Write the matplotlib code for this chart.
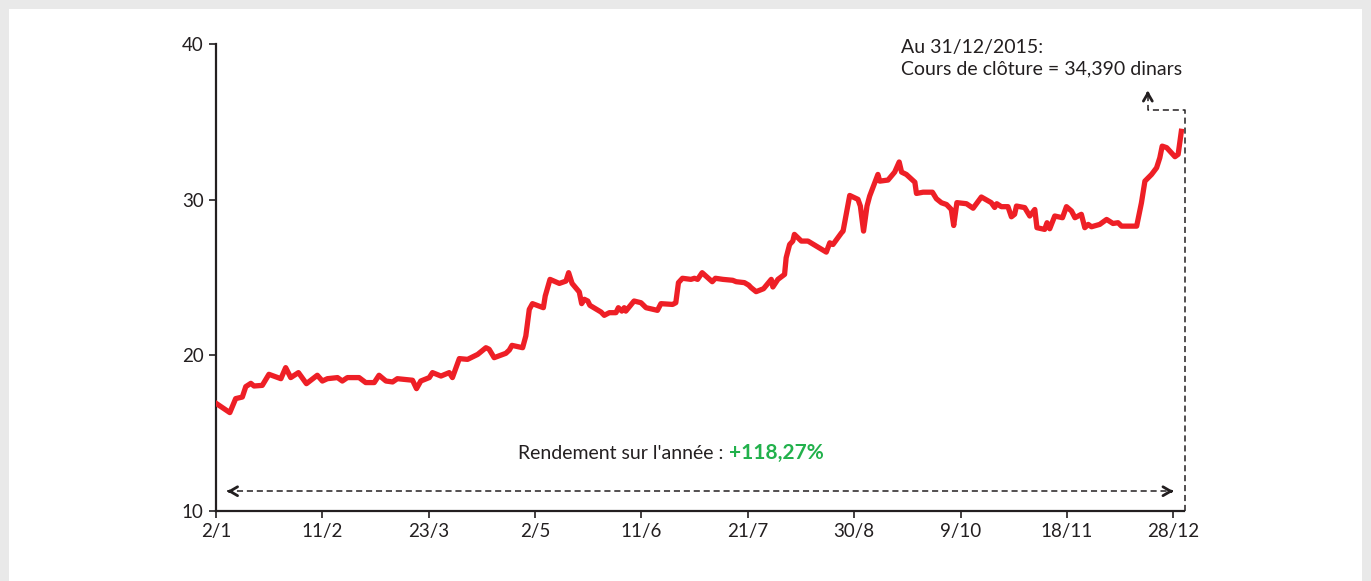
import matplotlib
matplotlib.use("Agg")
import matplotlib.pyplot as plt
from matplotlib.patches import Rectangle

plt.rcParams['font.family'] = ['Lato', 'DejaVu Sans']

# closing prices 2015, x = day of year
days = [2, 7.2, 9.4, 11.9, 13.2, 15.1, 16.3, 19.4, 21.9, 26.4, 28.2, 30.1, 33.0, 36.0,
        40.1, 42.0, 43.9, 47.7, 49.5, 51.4, 55.8, 58.3, 61.5, 63.3, 65.9, 68.4, 70.2,
        75.9, 77.4, 79.0, 82.2, 83.4, 86.6, 89.7, 90.9, 93.5, 96.6, 100.4, 103.5, 104.7,
        106.6, 111.0, 112.3, 113.3, 117.3, 118.5, 119.8, 121.0, 125.1, 125.8, 127.6,
        131.1, 133.6, 134.6, 135.9, 138.6, 139.5, 140.5, 141.8, 142.6, 146.8, 148.0,
        149.9, 152.4, 153.3, 154.6, 155.5, 156.1, 159.2, 161.8, 163.7, 168.0, 169.3,
        173.7, 174.9, 175.9, 177.4, 180.6, 181.9, 183.1, 184.8, 186.9, 188.6, 189.8,
        192.6, 196.3, 197.6, 200.7, 202.3, 203.2, 205.1, 207.9, 210.8, 211.4, 213.3,
        215.8, 216.4, 217.7, 218.9, 219.5, 222.1, 224.6, 227.7, 231.5, 232.8, 234.0,
        237.2, 237.8, 240.3, 243.4, 244.3, 245.5, 246.8, 247.8, 250.9, 251.6, 254.7,
        257.2, 258.9, 259.8, 261.6, 264.8, 265.4, 267.9, 271.4, 272.9, 274.8, 276.7,
        278.5, 279.4, 280.6, 284.2, 286.7, 289.8, 293.5, 294.8, 295.6, 297.3, 299.8,
        301.1, 302.3, 303.0, 306.1, 308.0, 309.9, 310.7, 313.6, 314.5, 315.5, 317.4,
        320.3, 321.8, 323.7, 325.0, 327.4, 328.7, 330.0, 331.2, 334.3, 336.9, 339.3,
        341.2, 342.5, 348.2, 350.0, 351.3, 353.8, 355.7, 356.9, 357.8, 359.5, 362.6,
        363.8, 365]
prices = [16.92, 16.32, 17.22, 17.32, 17.99, 18.2, 18.03, 18.07, 18.78, 18.5, 19.21,
          18.57, 18.89, 18.18, 18.72, 18.35, 18.5, 18.57, 18.35, 18.57, 18.57, 18.25,
          18.25, 18.72, 18.35, 18.29, 18.5, 18.4, 17.86, 18.35, 18.57, 18.89, 18.67,
          18.89, 18.57, 19.79, 19.74, 20.06, 20.49, 20.39, 19.85, 20.13, 20.34, 20.64,
          20.49, 21.24, 22.95, 23.32, 23.06, 23.81, 24.88, 24.62, 24.77, 25.31, 24.62,
          24.07, 23.32, 23.6, 23.49, 23.21, 22.78, 22.57, 22.74, 22.74, 23.06, 22.84,
          23.06, 22.84, 23.49, 23.38, 23.06, 22.89, 23.32, 23.27, 23.38, 24.67, 24.95,
          24.88, 24.95, 24.88, 25.31, 24.99, 24.73, 24.95, 24.88, 24.82, 24.73, 24.67,
          24.51, 24.35, 24.09, 24.28, 24.88, 24.39, 24.88, 25.2, 26.27, 27.12, 27.34,
          27.77, 27.34, 27.34, 27.02, 26.63, 27.23, 27.12, 27.87, 27.98, 30.27, 30.02,
          29.59, 27.98, 29.59, 30.23, 31.62, 31.19, 31.26, 31.77, 32.42, 31.77, 31.62,
          31.12, 30.4, 30.48, 30.48, 30.06, 29.8, 29.69, 29.37, 28.34, 29.81, 29.74,
          29.45, 30.17, 29.81, 29.5, 29.74, 29.55, 29.55, 28.9, 29.06, 29.59, 29.49,
          28.95, 29.37, 28.2, 28.09, 28.52, 28.13, 28.95, 28.84, 29.55, 29.27, 28.84,
          29.06, 28.2, 28.41, 28.26, 28.41, 28.73, 28.47, 28.52, 28.3, 28.3, 29.8,
          31.19, 31.62, 32.05, 32.69, 33.44, 33.34, 32.76, 32.91, 34.39]

tick_days = [2, 42, 82, 122, 162, 202, 242, 282, 322, 362]
tick_labels = ["2/1", "11/2", "23/3", "2/5", "11/6", "21/7", "30/8", "9/10", "18/11", "28/12"]
y_ticks = [10, 20, 30, 40]

yield_text = "Rendement sur l'année :"
yield_value = "+118,27%"
close_text = "Au 31/12/2015:\nCours de clôture = 34,390 dinars"

dark = "#231f20"
dashes = (0, (4, 2.5))

W, H = 1371, 581
fig = plt.figure(figsize=(W / 100, H / 100), dpi=100, facecolor="#e9e9e9")
# white card behind everything
fig.patches.append(Rectangle((9 / W, 0), 1353 / W, 1 - 9 / H, transform=fig.transFigure,
                             facecolor="white", edgecolor="none", zorder=-5))

ax = fig.add_axes([216 / W, 1 - 511 / H, 968 / W, 467 / H])
ax.set_facecolor("none")

ax.plot(days, prices, color="#ee1f26", lw=3.8, solid_joinstyle="round", zorder=3)

ax.set_xlim(2, 366)
ax.set_ylim(10, 40)
ax.set_xticks(tick_days)
ax.set_xticklabels(tick_labels)
ax.set_yticks(y_ticks)
for s in ["top", "right"]:
    ax.spines[s].set_visible(False)
for s in ["left", "bottom"]:
    ax.spines[s].set_linewidth(1.6)
    ax.spines[s].set_color(dark)
ax.tick_params(axis="both", length=5, width=1.2, color=dark,
               labelsize=13.5, labelcolor=dark, direction="out")
ax.tick_params(axis="x", pad=4)
ax.tick_params(axis="y", pad=4)


def chevron(tip, tail):
    # bold open arrow head
    ax.annotate("", xy=tip, xytext=tail, annotation_clip=False,
                arrowprops=dict(arrowstyle="->,head_length=0.55,head_width=0.32",
                                color=dark, lw=2.0, shrinkA=0, shrinkB=0))


# yearly return arrow
y_arr = 11.27
x_left, x_right = days[0] + 4.2, tick_days[-1]
ax.plot([x_left, x_right], [y_arr, y_arr], color=dark, lw=1.1, linestyle=dashes, zorder=2)
chevron((x_left, y_arr), (x_left + 1, y_arr))
chevron((x_right, y_arr), (x_right - 1, y_arr))

ax.text(0.5238, 0.111, yield_text, transform=ax.transAxes, ha="right", va="baseline",
        fontsize=14, color=dark)
ax.text(0.530, 0.111, yield_value, transform=ax.transAxes, ha="left", va="baseline",
        fontsize=15, color="#22b14c", fontweight="bold")

# closing price callout
x_end = days[-1] + 1.3
x_up = 352.4
ax.plot([x_end, x_end, x_up, x_up], [10, 35.74, 35.74, 36.7], color=dark, lw=1.1,
        linestyle=dashes, clip_on=False, zorder=2)
chevron((x_up, 37.0), (x_up, 36.7))
ax.text(259.6, 40.35, close_text, ha="left", va="top", fontsize=14, color=dark,
        linespacing=1.35, clip_on=False)

fig.savefig("out.png", dpi=100, facecolor=fig.get_facecolor())
